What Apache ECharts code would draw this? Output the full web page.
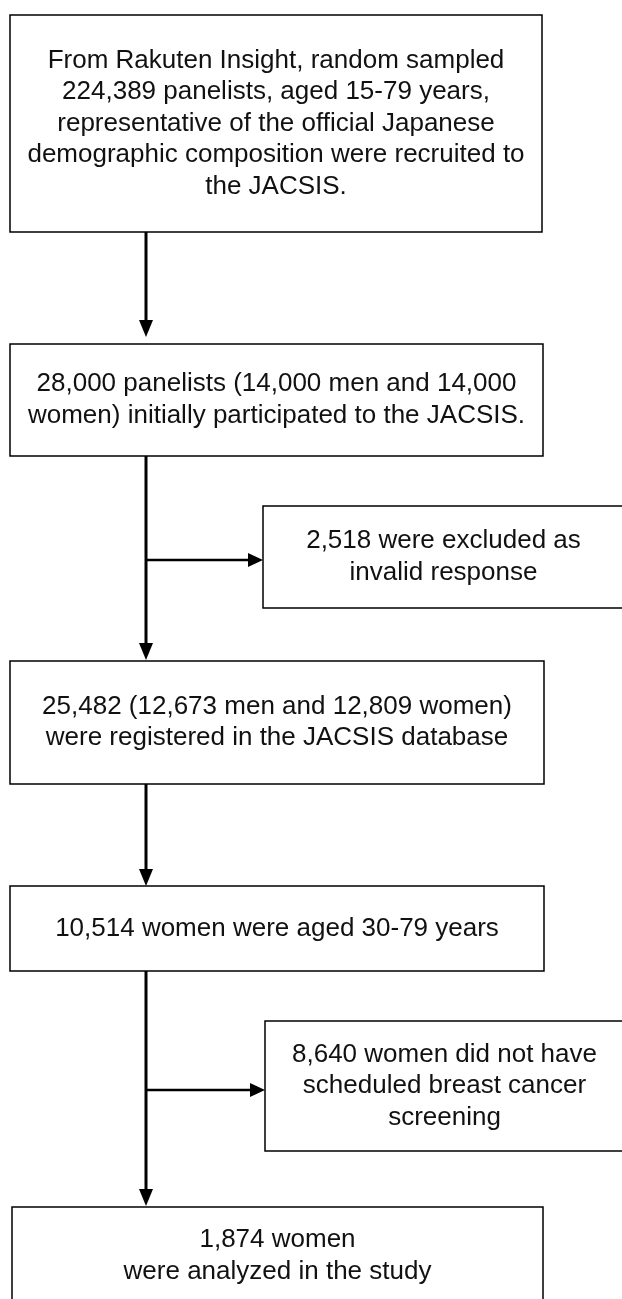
<!DOCTYPE html>
<html><head><meta charset="utf-8">
<script src="https://cdn.jsdelivr.net/npm/echarts@6/dist/echarts.min.js"></script>
<style>html,body{margin:0;padding:0;background:#fff}#c{width:622px;height:1299px}</style>
</head><body><div id="c"></div>
<script>
// ---- content (flow steps) ----
const mainTexts = [
  'From Rakuten Insight, random sampled\n224,389 panelists, aged 15-79 years,\nrepresentative of the official Japanese\ndemographic composition were recruited to\nthe JACSIS.',
  '28,000 panelists (14,000 men and 14,000\nwomen) initially participated to the JACSIS.',
  '25,482 (12,673 men and 12,809 women)\nwere registered in the JACSIS database',
  '10,514 women were aged 30-79 years',
  '1,874 women\nwere analyzed in the study'
];
const excludedTexts = [
  '2,518 were excluded as\ninvalid response',
  '8,640 women did not have\nscheduled breast cancer\nscreening'
];

// ---- layout (box corners in canvas units) ----
const mainBoxes = [[10,15,542,232],[10,344,543,456],[10,661,544,784],[10,886,544,971],[12,1207,543,1305]];
const sideBoxes = [[263,506,624,608],[265,1021,624,1151]];
const stemX = 146;
const downArrows = [[232,337],[456,660],[784,886],[971,1206]];
const rightArrows = [[560,263],[1090,265]];

const FONT = '26px "Liberation Sans", Arial, sans-serif';

const boxData = mainBoxes.map((b,i)=>({value:b, text:mainTexts[i]}))
  .concat(sideBoxes.map((b,i)=>({value:b, text:excludedTexts[i]})));

const chart = echarts.init(document.getElementById('c'), null, {renderer:'canvas'});
chart.setOption({
  animation:false,
  backgroundColor:'#fff',
  grid:{left:0,right:0,top:0,bottom:0},
  xAxis:{type:'value',min:0,max:622,show:false},
  yAxis:{type:'value',min:0,max:1299,inverse:true,show:false},
  series:[
    {
      type:'custom',
      data:boxData.map(d=>d.value),
      renderItem:function(params, api){
        const p0 = api.coord([api.value(0), api.value(1)]);
        const p1 = api.coord([api.value(2), api.value(3)]);
        const txt = boxData[params.dataIndex].text;
        return {type:'group', children:[
          {type:'rect', shape:{x:p0[0], y:p0[1], width:p1[0]-p0[0], height:p1[1]-p0[1]},
           style:{fill:'#fff', stroke:'#000', lineWidth:1.5}},
          {type:'text', style:{text:txt, x:(p0[0]+p1[0])/2, y:(p0[1]+p1[1])/2,
            align:'center', verticalAlign:'middle', font:FONT, lineHeight:31.5, fill:'#111'}}
        ]};
      }
    },
    {
      type:'custom',
      data:downArrows.map(a=>[stemX,a[0],a[1]]),
      renderItem:function(params, api){
        const s = api.coord([api.value(0), api.value(1)]);
        const t = api.coord([api.value(0), api.value(2)]);
        const h = 17, w = 7;
        return {type:'group', children:[
          {type:'line', shape:{x1:s[0], y1:s[1], x2:t[0], y2:t[1]-h+1}, style:{stroke:'#000', lineWidth:3}},
          {type:'polygon', shape:{points:[[t[0]-w,t[1]-h],[t[0]+w,t[1]-h],[t[0],t[1]]]}, style:{fill:'#000'}}
        ]};
      }
    },
    {
      type:'custom',
      data:rightArrows.map(a=>[stemX,a[0],a[1]]),
      renderItem:function(params, api){
        const s = api.coord([api.value(0), api.value(1)]);
        const t = api.coord([api.value(2), api.value(1)]);
        const h = 15, w = 7;
        return {type:'group', children:[
          {type:'line', shape:{x1:s[0], y1:s[1], x2:t[0]-h+1, y2:t[1]}, style:{stroke:'#000', lineWidth:2.5}},
          {type:'polygon', shape:{points:[[t[0]-h,t[1]-w],[t[0]-h,t[1]+w],[t[0],t[1]]]}, style:{fill:'#000'}}
        ]};
      }
    }
  ]
});
</script>
</body></html>
